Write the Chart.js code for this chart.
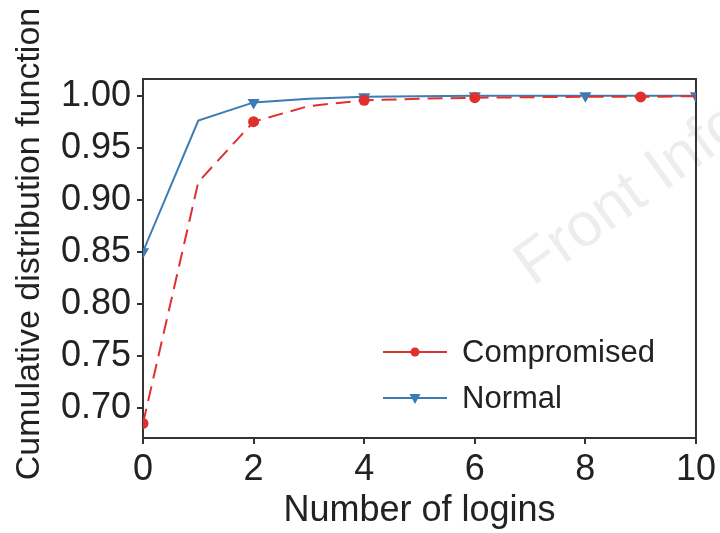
<!DOCTYPE html>
<html>
<head>
<meta charset="utf-8">
<script src="https://cdn.jsdelivr.net/npm/chart.js@4"></script>
<style>
  body { margin: 0; background: #fff; }
  #wrap { width: 720px; height: 533px; }
</style>
</head>
<body>
<div id="wrap"><canvas id="chart" width="720" height="533"></canvas></div>
<script>
const logins = [0, 1, 2, 3, 4, 5, 6, 7, 8, 9, 10]
const compromised = [0.685, 0.917, 0.975, 0.990, 0.9955, 0.997, 0.998, 0.9985, 0.999, 0.9988, 0.9995]
const normal = [0.850, 0.976, 0.9935, 0.997, 0.999, 0.9995, 0.9998, 0.9999, 1.000, 1.000, 1.000]
const compromisedMarks = [0, 2, 4, 6, 9]
const normalMarks = [0, 2, 4, 6, 8, 10]
const xTicks = [0, 2, 4, 6, 8, 10]
const yTicks = [0.70, 0.75, 0.80, 0.85, 0.90, 0.95, 1.00]
const yTitle = "Cumulative distribution function"

const RED = "#e0302e"
const BLUE = "#3c7bb4"
const INK = "#222"
const FONT = "'Liberation Sans', Arial, sans-serif"

// faint watermark behind the plot
const watermark = {
  id: "watermark",
  beforeDraw(chart) {
    const ctx = chart.ctx
    ctx.save()
    ctx.translate(533, 287)
    ctx.rotate(-36 * Math.PI / 180)
    ctx.font = "62px " + FONT
    ctx.fillStyle = "rgba(0,0,0,0.07)"
    ctx.fillText("Front Inform", 0, 0)
    ctx.restore()
  },
}

// top and right sides of the box, plus the y title (sits a bit above centre)
const frame = {
  id: "frame",
  beforeDatasetsDraw(chart) {
    const { ctx, chartArea: a } = chart
    ctx.save()
    ctx.strokeStyle = "#333"
    ctx.lineWidth = 2
    ctx.beginPath()
    ctx.moveTo(a.left, a.top)
    ctx.lineTo(a.right, a.top)
    ctx.lineTo(a.right, a.bottom)
    ctx.stroke()

    ctx.translate(30, 244)
    ctx.rotate(-Math.PI / 2)
    ctx.font = "34px " + FONT
    ctx.fillStyle = INK
    ctx.textAlign = "center"
    ctx.textBaseline = "middle"
    ctx.fillText(yTitle, 0, 0)
    ctx.restore()
  },
}

// legend inside the plot, bottom right
const innerLegend = {
  id: "innerLegend",
  afterDraw(chart) {
    const { ctx, chartArea: a } = chart
    const x0 = a.left + 240
    const rows = [a.top + 273, a.top + 319]
    ctx.save()
    chart.data.datasets.forEach((ds, i) => {
      const y = rows[i]
      ctx.strokeStyle = ds.borderColor
      ctx.lineWidth = 2
      ctx.setLineDash([])
      ctx.beginPath()
      ctx.moveTo(x0, y)
      ctx.lineTo(x0 + 64, y)
      ctx.stroke()
      ctx.fillStyle = ds.borderColor
      ctx.beginPath()
      if (ds.pointStyle === "triangle") {
        ctx.moveTo(x0 + 32 - 5.5, y - 4)
        ctx.lineTo(x0 + 32 + 5.5, y - 4)
        ctx.lineTo(x0 + 32, y + 6)
        ctx.closePath()
      } else {
        ctx.arc(x0 + 32, y, 4.5, 0, Math.PI * 2)
      }
      ctx.fill()
      ctx.fillStyle = INK
      ctx.font = "31px " + FONT
      ctx.textBaseline = "middle"
      ctx.fillText(ds.label, x0 + 79, y + 1)
    })
    ctx.restore()
  },
}

const axisCommon = {
  grid: { display: true, drawOnChartArea: false, drawTicks: true, tickLength: 6, color: "#333", lineWidth: 2 },
  border: { display: true, color: "#333", width: 2 },
}

new Chart(document.getElementById("chart"), {
  type: "line",
  data: {
    datasets: [
      {
        label: "Compromised",
        data: logins.map((x, i) => ({ x, y: compromised[i] })),
        borderColor: RED,
        backgroundColor: RED,
        borderWidth: 2,
        borderDash: [15, 8],
        pointStyle: "circle",
        pointRadius: logins.map((x) => (compromisedMarks.includes(x) ? 5.5 : 0)),
        pointBorderWidth: 0,
        tension: 0,
      },
      {
        label: "Normal",
        data: logins.map((x, i) => ({ x, y: normal[i] })),
        borderColor: BLUE,
        backgroundColor: BLUE,
        borderWidth: 2,
        pointStyle: "triangle",
        pointRotation: 180,
        pointRadius: logins.map((x) => (normalMarks.includes(x) ? 7 : 0)),
        pointBorderWidth: 0,
        tension: 0,
      },
    ],
  },
  options: {
    responsive: false,
    animation: false,
    devicePixelRatio: 1,
    layout: { padding: { top: 79, right: 22, left: 0, bottom: 0 } },
    plugins: { legend: { display: false }, tooltip: { enabled: false } },
    scales: {
      x: {
        ...axisCommon,
        type: "linear",
        min: 0,
        max: 10,
        afterBuildTicks: (s) => { s.ticks = xTicks.map((v) => ({ value: v })) },
        afterFit: (s) => { s.height = 95 },
        ticks: { font: { size: 36, family: FONT }, color: INK, padding: 4, maxRotation: 0 },
        title: { display: true, text: "Number of logins", font: { size: 36, family: FONT }, color: INK, padding: { top: 0, bottom: 0 } },
      },
      y: {
        ...axisCommon,
        min: 0.671,
        max: 1.016,
        afterBuildTicks: (s) => { s.ticks = yTicks.map((v) => ({ value: v })) },
        afterFit: (s) => { s.width = 143 },
        ticks: { font: { size: 36, family: FONT }, color: INK, padding: 6, callback: (v) => v.toFixed(2) },
      },
    },
  },
  plugins: [watermark, frame, innerLegend],
})
</script>
</body>
</html>
